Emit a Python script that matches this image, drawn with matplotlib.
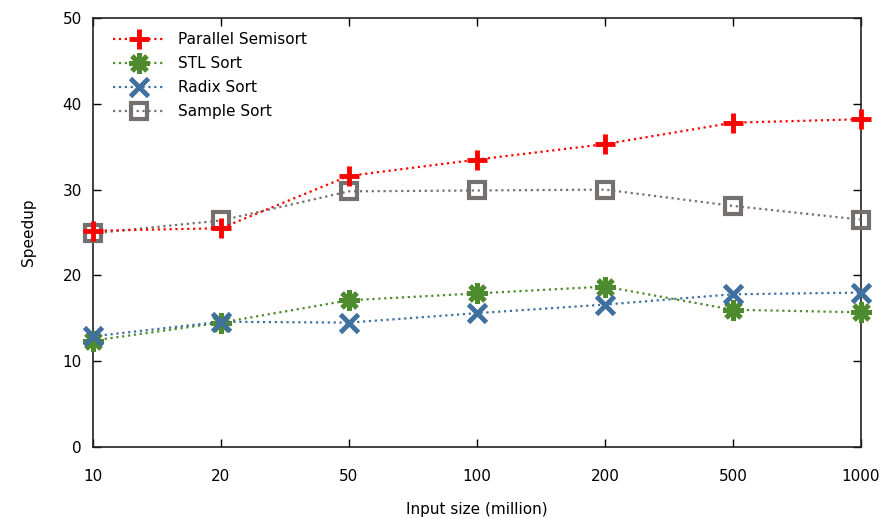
import matplotlib
matplotlib.use("Agg")
import matplotlib.pyplot as plt
from matplotlib.ticker import MultipleLocator

# Input sizes (million keys) and measured speedups
sizes = ["10", "20", "50", "100", "200", "500", "1000"]
parallel_semisort = [25.2, 25.5, 31.6, 33.5, 35.3, 37.8, 38.2]
stl_sort = [12.4, 14.5, 17.1, 17.9, 18.7, 16.0, 15.7]
radix_sort = [12.9, 14.6, 14.5, 15.6, 16.6, 17.8, 18.0]
sample_sort = [24.9, 26.4, 29.8, 29.9, 30.0, 28.1, 26.5]

plt.rcParams['font.family'] = ['DejaVu Sans']
fig = plt.figure(figsize=(8.94, 5.19), dpi=100)
ax = fig.add_axes([0.104, 0.1387, 0.859, 0.8266])

x = list(range(len(sizes)))

ax.plot(x, parallel_semisort, linestyle=':', color='#ff0000', lw=1.6,
        marker='+', markersize=15, markeredgewidth=3.5,
        label='Parallel Semisort', clip_on=False, zorder=4)
ax.plot(x, stl_sort, linestyle=':', color='#4e8a2e', lw=1.6,
        marker=(8, 2, 0), markersize=15, markeredgewidth=3.5,
        label='STL Sort', clip_on=False, zorder=3)
ax.plot(x, radix_sort, linestyle=':', color='#3f709e', lw=1.6,
        marker='x', markersize=13, markeredgewidth=3.5,
        label='Radix Sort', clip_on=False, zorder=3)
ax.plot(x, sample_sort, linestyle=':', color='#757070', lw=1.6,
        marker='s', markersize=11, markeredgewidth=3,
        markerfacecolor='none', label='Sample Sort', clip_on=False, zorder=3)

ax.set_xlim(0, len(sizes) - 1)
ax.set_ylim(0, 50)
ax.set_xticks(x)
ax.set_xticklabels(sizes)
ax.yaxis.set_major_locator(MultipleLocator(10))
ax.tick_params(direction='in', top=True, right=True, length=6, width=1,
               labelsize=11)
ax.tick_params(axis='x', pad=15.5)
ax.tick_params(axis='y', pad=8)
for s in ax.spines.values():
    s.set_linewidth(1.2)
    s.set_color('#222222')

ax.set_xlabel('Input size (million)', fontsize=11, labelpad=13.5)
ax.set_ylabel('Speedup', fontsize=11, labelpad=19)

ax.legend(loc='upper left', frameon=False, fontsize=11, handlelength=3.4,
          handletextpad=0.85, labelspacing=0.6, borderaxespad=0.4,
          bbox_to_anchor=(0.0104, 0.996))

fig.savefig('out.png', dpi=100)
